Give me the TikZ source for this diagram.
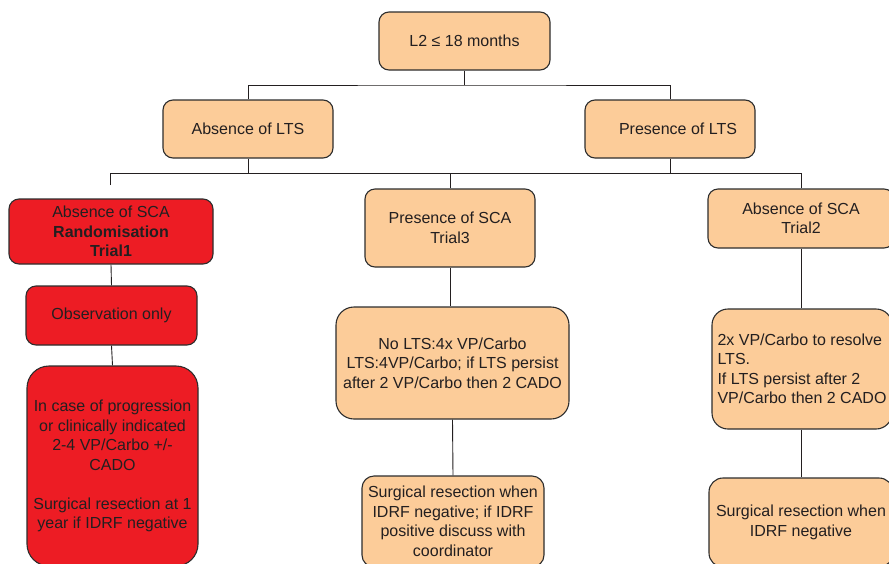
\documentclass[tikz,border=0pt]{standalone}
\usepackage{fontspec}
\setmainfont{Liberation Sans}
\usetikzlibrary{positioning}
\definecolor{peach}{RGB}{252,204,153}
\definecolor{alarm}{RGB}{237,28,36}
\definecolor{ink}{RGB}{35,31,32}
\definecolor{edge}{RGB}{45,45,45}
\begin{document}
\begin{tikzpicture}[x=1pt,y=-1pt,
  box/.style={draw=edge, line width=1.1pt, rounded corners=10pt, inner sep=2pt,
    align=center, text=ink, font=\fontsize{16}{19.5}\selectfont},
  soft/.style={box, fill=peach},
  hot/.style={box, fill=alarm},
  link/.style={draw=ink, line width=0.9pt}]
\clip (0,0) rectangle (889,563);
\fill[white] (0,0) rectangle (889,563);

% first two levels
\node[soft, minimum width=171, minimum height=58] (top) at (464.5,41) {L2 ≤ 18 months};
\node[soft, minimum width=170, minimum height=58] (absLTS) at (248,129) {Absence of LTS};
\node[soft, minimum width=170, minimum height=58] (presLTS) at (670,129) {\hspace*{16pt}Presence of LTS};

% left branch: randomised arm
\node[hot, minimum width=204, minimum height=65] (trial1) at (111,231.5)
  {Absence of SCA\\ \textbf{Randomisation}\\ \textbf{Trial1}};
\node[hot, minimum width=171, minimum height=59] (obs) at (111.5,315.5) {Observation only};
\node[hot, rounded corners=22pt, minimum width=171, minimum height=200] (prog) at (112.5,466)
  {In case of progression\\ or clinically indicated\\ 2-4 VP/Carbo +/-\\ CADO\\[19.5pt]
   Surgical resection at 1\\ year if IDRF negative};

% middle branch
\node[soft, minimum width=170, minimum height=78] (trial3) at (450,228) {Presence of SCA\\ Trial3};
\node[soft, rounded corners=18pt, minimum width=233, minimum height=112] (chemo3) at (452.5,363)
  {No LTS:4x VP/Carbo\\ LTS:4VP/Carbo; if LTS persist\\ after 2 VP/Carbo then 2 CADO};
\node[soft, rounded corners=12pt, minimum width=182, minimum height=91] (surg3) at (453,521.5)
  {Surgical resection when\\ IDRF negative; if IDRF\\ positive discuss with\\ coordinator};

% right branch
\node[soft, rounded corners=16pt, align=left, minimum width=180, minimum height=120]
  (chemo2) at (802,369)
  {2x VP/Carbo to resolve\\ LTS.\\ If LTS persist after 2\\ VP/Carbo then 2 CADO};
\node[soft, minimum width=186, minimum height=59] (trial2) at (801,218.5) {Absence of SCA\\ Trial2};
\node[soft, rounded corners=14pt, minimum width=184, minimum height=89] (surg2) at (801,522.5)
  {Surgical resection when\\ IDRF negative};

% connectors of the tree
\coordinate (split) at (464.5,85);
\coordinate (busL) at (110,173);
\coordinate (tick) at (110,185);
\coordinate (busR) at (801,173);

\draw[link] (top.south) -- (split);
\draw[link] (absLTS.north) |- (split) -| (presLTS.north);
\draw[link] (tick) -- (busL) -- (busR);
\draw[link] (absLTS.south) -- (absLTS.south |- busL);
\draw[link] (presLTS.south) -- (presLTS.south |- busL);
\draw[link] (trial3.north) -- (trial3.north |- busL);
\draw[link] (trial2.north) -- (trial2.north |- busL);

\draw[link] (trial1.south) -- (obs.north);
\draw[link] (obs.south) -- (prog.north);
\draw[link] (trial3.south) -- (trial3.south |- chemo3.north);
\draw[link] (chemo3.south) -- (surg3.north);
\draw[link] (trial2.south) -- (trial2.south |- chemo2.north);
\draw[link] (chemo2.south -| trial2.south) -- (surg2.north);
\end{tikzpicture}
\end{document}
